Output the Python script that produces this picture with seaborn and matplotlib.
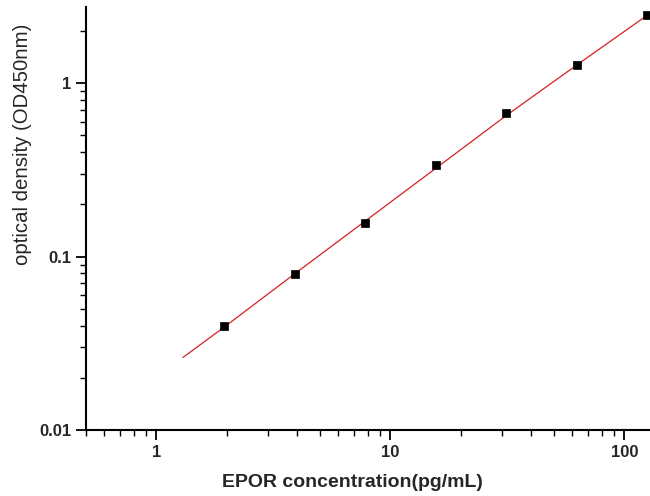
import matplotlib
matplotlib.use("Agg")
import matplotlib.pyplot as plt
import seaborn as sns
import pandas as pd
from matplotlib.ticker import LogLocator, NullFormatter

# Standards (measured points)
conc = [1.95, 3.9, 7.8, 15.6, 31.25, 62.5, 125]
od = [0.0397, 0.0796, 0.157, 0.336, 0.675, 1.28, 2.47]

# Fitted curve
fit_x = [1.3, 1.95, 3.9, 7.8, 15.6, 31.25, 62.5, 125]
fit_y = [0.0262, 0.0392, 0.0795, 0.160, 0.322, 0.650, 1.27, 2.46]

x_ticks = [1, 10, 100]
x_tick_labels = ["1", "10", "100"]
y_ticks = [0.01, 0.1, 1]
y_tick_labels = ["0.01", "0.1", "1"]

sns.set_style("ticks")
plt.rcParams['font.family'] = ['Liberation Sans', 'DejaVu Sans']

fig = plt.figure(figsize=(6.5, 4.96), dpi=100)
ax = fig.add_axes([0.132, 0.133, 0.866, 0.853])

pts = pd.DataFrame({"x": conc, "y": od})
fit = pd.DataFrame({"x": fit_x, "y": fit_y})

sns.lineplot(data=fit, x="x", y="y", ax=ax, color="#d42020", linewidth=0.9, zorder=2)
sns.scatterplot(data=pts, x="x", y="y", ax=ax, marker="s", color="black", s=40,
                edgecolor="black", linewidth=0.5, zorder=3, clip_on=False)

ax.set_xscale("log")
ax.set_yscale("log")
ax.set_xlim(0.5, 127)
ax.set_ylim(0.01, 2.75)

ax.set_xticks(x_ticks)
ax.set_xticklabels(x_tick_labels, fontweight="bold", fontsize=12)
ax.set_yticks(y_ticks)
ax.set_yticklabels(y_tick_labels, fontweight="bold", fontsize=12)
ax.xaxis.set_minor_locator(LogLocator(base=10, subs=range(2, 10)))
ax.yaxis.set_minor_locator(LogLocator(base=10, subs=range(2, 10)))
ax.xaxis.set_minor_formatter(NullFormatter())
ax.yaxis.set_minor_formatter(NullFormatter())

ax.tick_params(which="major", length=7, width=1.3, direction="out", color="black")
ax.tick_params(which="minor", length=4, width=1.0, direction="out", color="black")

for s in ["top", "right"]:
    ax.spines[s].set_visible(False)
for s in ["left", "bottom"]:
    ax.spines[s].set_linewidth(1.5)
    ax.spines[s].set_color("black")

ax.set_xlabel("EPOR concentration(pg/mL)", fontsize=14, fontweight="bold")
ax.set_ylabel("optical density (OD450nm)", fontsize=14.7)
ax.xaxis.set_label_coords(0.474, -0.105)
ax.yaxis.set_label_coords(-0.096, 0.676)

fig.savefig("out.png", dpi=100)
